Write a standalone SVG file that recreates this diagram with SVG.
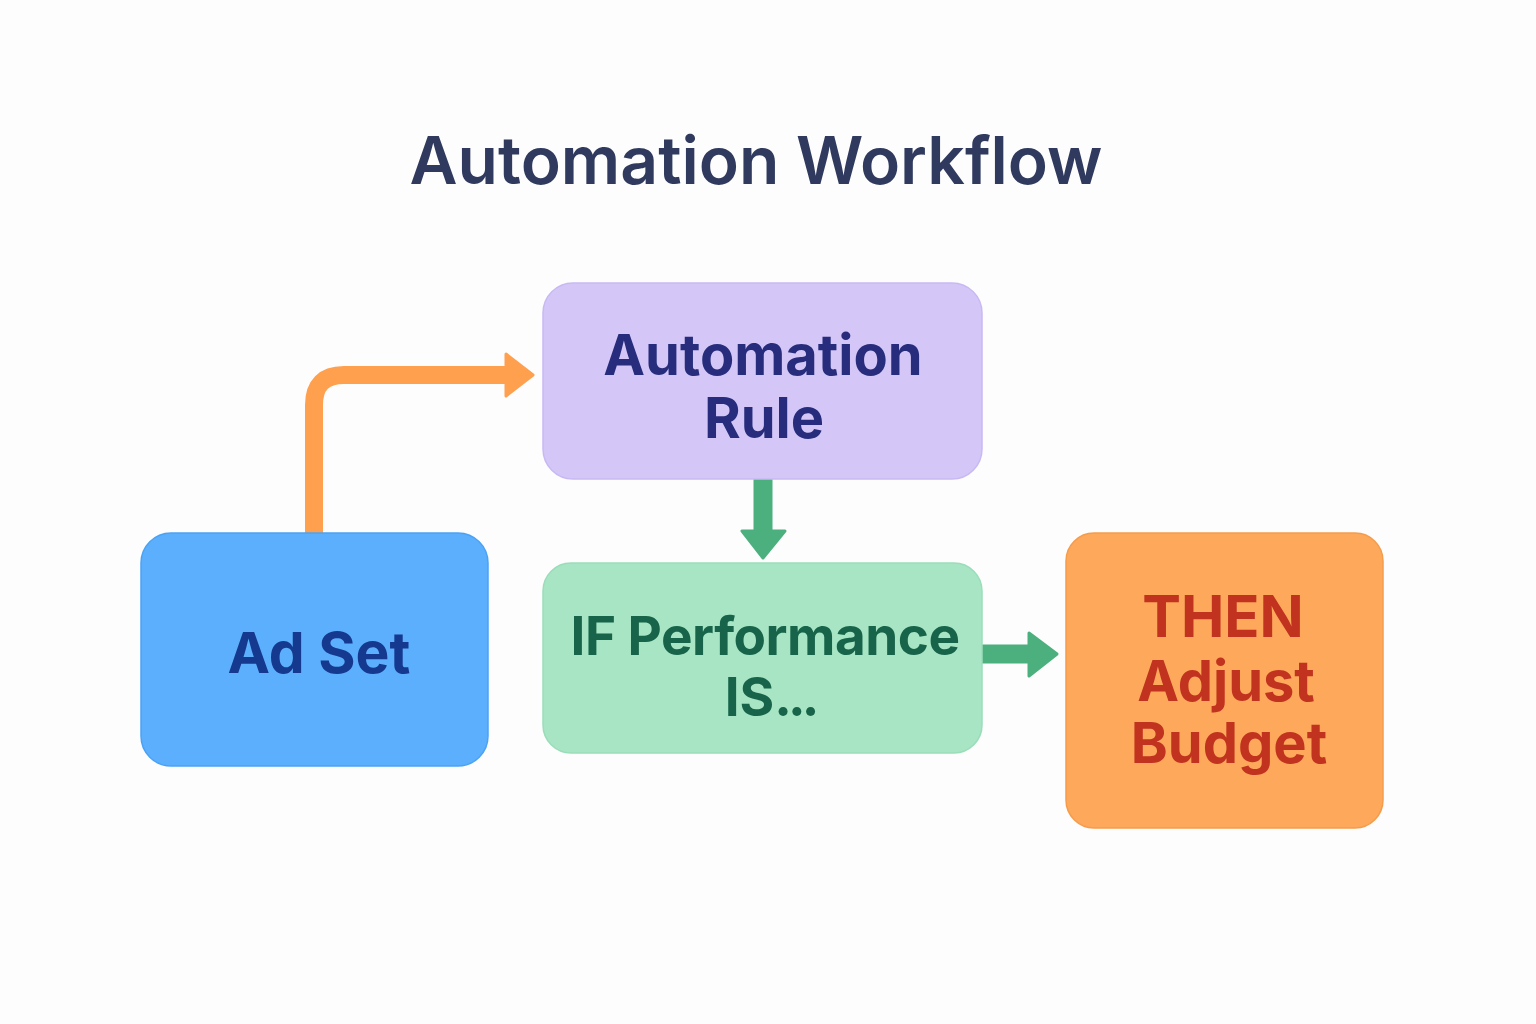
<svg xmlns="http://www.w3.org/2000/svg" width="1536" height="1024" viewBox="0 0 1536 1024">
<style>
text{font-family:Inter,"Noto Sans","Liberation Sans",sans-serif;text-anchor:middle}
.title{font-size:66px;font-weight:600;fill:#2F3A5E}
.lbl{font-weight:700}
.conn{fill:none;stroke-linejoin:round}
</style>
<rect width="1536" height="1024" fill="#FDFDFD"/>
<text class="title" x="756" y="184">Automation Workflow</text>
<g id="connectors">
<path class="conn" d="M314,534 V405 Q314,375 344,375 H512" stroke="#FEA04E" stroke-width="18"/>
<path d="M506,354 L533,375 L506,396 Z" fill="#FEA04E" stroke="#FEA04E" stroke-width="3" stroke-linejoin="round"/>
<path class="conn" d="M763,479 V536" stroke="#4CB07E" stroke-width="19"/>
<path d="M742,531 L785,531 L763,558 Z" fill="#4CB07E" stroke="#4CB07E" stroke-width="3" stroke-linejoin="round"/>
<path class="conn" d="M982,654 H1034" stroke="#4CB07E" stroke-width="19"/>
<path d="M1029,633 L1057,654 L1029,676 Z" fill="#4CB07E" stroke="#4CB07E" stroke-width="3" stroke-linejoin="round"/>
</g>
<g id="adset">
<rect x="141" y="533" width="347" height="233" rx="30" fill="#5BAFFD" stroke="#4BA2F4" stroke-width="1.5"/>
<text class="lbl" x="319" y="673" fill="#15398E" font-size="57">Ad Set</text>
</g>
<g id="rule">
<rect x="543" y="283" width="439" height="196" rx="30" fill="#D4C7F8" stroke="#C8B9F2" stroke-width="1.5"/>
<text class="lbl" x="763" y="375" fill="#272D7C" font-size="56">Automation</text>
<text class="lbl" x="764" y="438" fill="#272D7C" font-size="56">Rule</text>
</g>
<g id="condition">
<rect x="543" y="563" width="439" height="190" rx="28" fill="#A8E5C4" stroke="#9ADDB9" stroke-width="1.5"/>
<text class="lbl" x="765" y="655" fill="#17644A" font-size="53" letter-spacing="-0.5">IF Performance</text>
<text class="lbl" x="770" y="716" fill="#17644A" font-size="53">IS<tspan letter-spacing="-4">...</tspan></text>
</g>
<g id="action">
<rect x="1066" y="533" width="317" height="295" rx="28" fill="#FDA85A" stroke="#F59C4C" stroke-width="1.5"/>
<text class="lbl" x="1223" y="637" fill="#C1321F" font-size="58">THEN</text>
<text class="lbl" x="1226" y="701" fill="#C1321F" font-size="56">Adjust</text>
<text class="lbl" x="1229" y="763" fill="#C1321F" font-size="56">Budget</text>
</g>
</svg>
